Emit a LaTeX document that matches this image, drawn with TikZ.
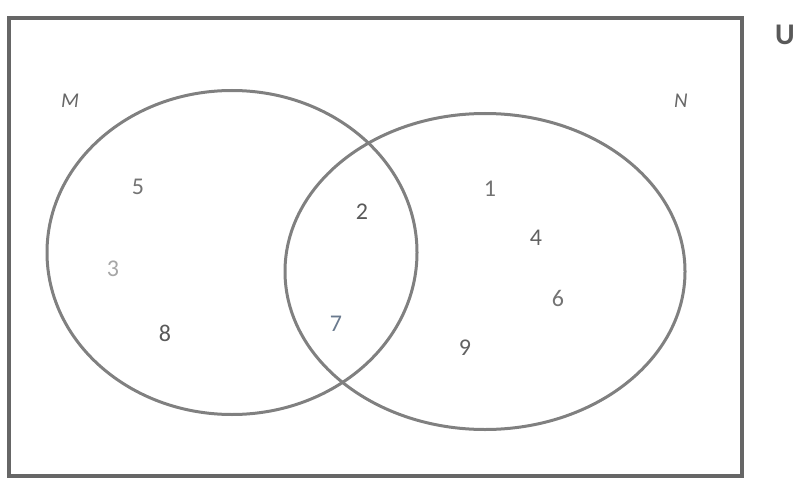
\documentclass[tikz,border=0pt]{standalone}
\usepackage{fontspec}
\setmainfont{Carlito}
\definecolor{bluegray}{HTML}{6A7A8E}
\begin{document}
\begin{tikzpicture}[x=1pt,y=-1pt,
  setline/.style={draw=black!50,line width=3pt},
  num/.style={font=\fontsize{24}{24}\selectfont,text=black!55,inner sep=0pt},
  setname/.style={font=\fontsize{21}{21}\selectfont\itshape,text=black!60,inner sep=0pt}]
\useasboundingbox (0,0) rectangle (802,492);
\draw[draw=black!60,line width=3.5pt] (9,18) rectangle (742,476);
\node[font=\fontsize{30}{30}\selectfont\bfseries,text=black!65,inner sep=0pt] (U) at (785,35) {U};
\draw[setline] (232,252.5) ellipse [x radius=185,y radius=162];
\draw[setline] (485,271.5) ellipse [x radius=200,y radius=158];
\node[setname] (M) at (70,101) {M};
\node[setname] (N) at (681,101) {N};
\node[num] (n5) at (138,187) {5};
\node[num,text=black!35] (n3) at (113,269) {3};
\node[num,text=black!65] (n8) at (165,333) {8};
\node[num,text=black!65] (n2) at (362,212) {2};
\node[num,text=bluegray] (n7) at (336,324) {7};
\node[num] (n1) at (490,189) {1};
\node[num,text=black!62] (n4) at (536,238) {4};
\node[num] (n6) at (558,298) {6};
\node[num,text=black!62] (n9) at (465,348) {9};
\end{tikzpicture}
\end{document}
